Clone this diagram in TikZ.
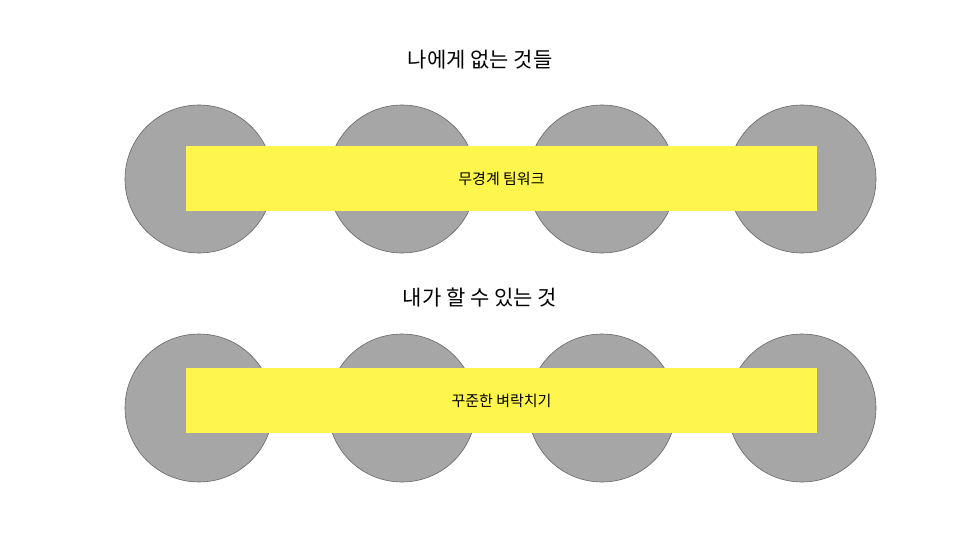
\documentclass[tikz,border=0pt]{standalone}
\usepackage{fontspec}
\setmainfont{Noto Sans CJK KR}
\begin{document}
\begin{tikzpicture}[x=1pt,y=-1pt,
  circ/.style={circle,draw=gray!80!black,line width=0.6pt,fill=black!35,minimum size=148pt,inner sep=0pt},
  bar/.style={fill=yellow!70!white,draw=none,minimum width=631pt,minimum height=65pt,inner sep=0pt,font=\fontsize{15}{18}\selectfont},
  title/.style={font=\fontsize{21}{25}\selectfont}]
\useasboundingbox (0,0) rectangle (960,540);
\fill[white] (0,0) rectangle (960,540);
\node[title] (t1) at (480,60) {나에게 없는 것들};
\foreach \x/\n in {199/a,402/b,602/c,802/d}{
  \node[circ] (c1\n) at (\x,179) {};
  \node[circ] (c2\n) at (\x,408) {};
}
\node[bar] (b1) at (501.5,178.5) {무경계 팀워크};
\node[title] (t2) at (480,298) {내가 할 수 있는 것};
\node[bar] (b2) at (501.5,400.5) {꾸준한 벼락치기};
\end{tikzpicture}
\end{document}
